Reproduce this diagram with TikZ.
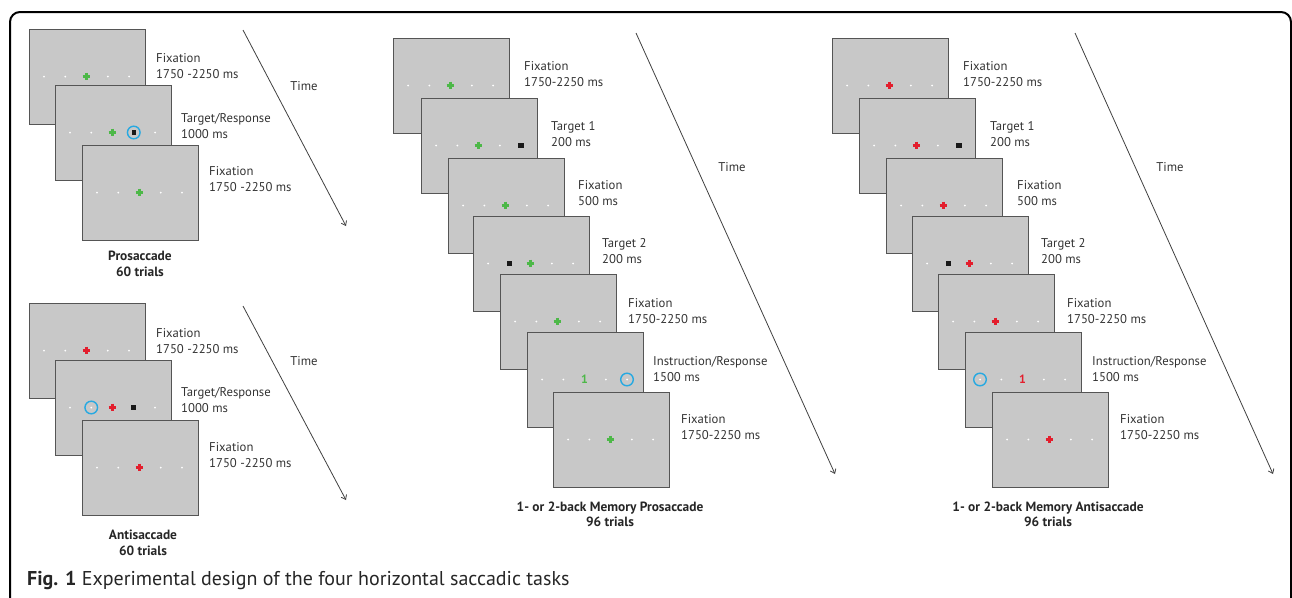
\documentclass[tikz,border=0pt]{standalone}
\usepackage{fontspec}
\setmainfont{PT Sans}
\usetikzlibrary{calc,arrows.meta}
\definecolor{scrfill}{HTML}{C8C8C8}
\definecolor{scrline}{HTML}{555555}
\definecolor{gcol}{HTML}{4DB848}
\definecolor{rcol}{HTML}{E31E2D}
\definecolor{bcol}{HTML}{27A9E1}
\definecolor{txtcol}{HTML}{333333}
\tikzset{
  screen/.style={draw=scrline, fill=scrfill, line width=1.3pt, minimum width=116pt, minimum height=95pt, inner sep=0pt, anchor=north west},
  lbl/.style={anchor=west, align=left, inner sep=0pt, text=txtcol, font=\fontsize{12.7}{16}\selectfont},
  ttl/.style={align=center, inner sep=0pt, text=black!85, font=\bfseries\fontsize{13.4}{15.5}\selectfont},
  timearrow/.style={draw=black!75, line width=0.8pt, -{Straight Barb[length=4pt,width=6pt]}},
  crs/.style={line width=2.2pt},
  ring/.style={draw=bcol, line width=1.4pt},
}
\newcommand\zzat[2]{\coordinate (p) at ($(#1.north west)+({-6.25+21.25*#2},47.5)$);}
\newcommand\zzd[2]{\zzat{#1}{#2}\fill[white] (p) circle[radius=1pt];}
\newcommand\zzgc[2]{\zzat{#1}{#2}\draw[crs,draw=gcol] (p) ++(-3.8,0) -- ++(7.6,0) (p) ++(0,-3.8) -- ++(0,7.6);}
\newcommand\zzrc[2]{\zzat{#1}{#2}\draw[crs,draw=rcol] (p) ++(-3.8,0) -- ++(7.6,0) (p) ++(0,-3.8) -- ++(0,7.6);}
\newcommand\zzsq[2]{\zzat{#1}{#2}\fill[black!90] (p) ++(-2.6,-2.6) rectangle ++(5.2,5.2);}
\newcommand\zzcs[2]{\zzat{#1}{#2}\fill[black!90] (p) ++(-2.2,-2.2) rectangle ++(4.4,4.4);\draw[ring] (p) circle[radius=6.3pt];}
\newcommand\zzcd[2]{\zzat{#1}{#2}\fill[white] (p) circle[radius=1pt];\draw[ring] (p) circle[radius=6.3pt];}
\newcommand\zzgo[2]{\zzat{#1}{#2}\node[inner sep=0pt, text=gcol, font=\bfseries\fontsize{12}{12}\selectfont] (one-#1) at (p) {1};}
\newcommand\zzro[2]{\zzat{#1}{#2}\node[inner sep=0pt, text=rcol, font=\bfseries\fontsize{12}{12}\selectfont] (one-#1) at (p) {1};}
\newcommand\zzscreen[4]{%
  \node[screen] (#1) at (#2,#3) {};
  \foreach \k [count=\i] in {#4} {\csname zz\k\endcsname{#1}{\i}}%
}
\begin{document}
\begin{tikzpicture}[x=1pt,y=-1pt]
\useasboundingbox (0,0) rectangle (1292,597);
\begin{scope}
\clip (0,0) rectangle (1292,597);
\draw[line width=2pt, rounded corners=10pt] (10,12) rectangle (1291,700);
\end{scope}

% ---------- Prosaccade ----------
\zzscreen{pa}{29}{29}{d,d,gc,d,d}
\zzscreen{pb}{55}{85}{d,d,gc,cs,d}
\zzscreen{pc}{82}{145}{d,d,gc,d,d}
\node[lbl] (lpa) at (156,66) {Fixation\\1750 -2250 ms};
\node[lbl] (lpb) at (181,126) {Target/Response\\1000 ms};
\node[lbl] (lpc) at (209,179) {Fixation\\1750 -2250 ms};
\node[ttl] (tp) at (140,264) {Prosaccade\\60 trials};
\coordinate (pas) at (243,30);
\coordinate (pae) at (346,226);
\draw[timearrow] (pas) -- (pae);
\node[lbl, anchor=center] (timep) at (304,86) {Time};

% ---------- Antisaccade ----------
\zzscreen{aa}{29}{303}{d,d,rc,d,d}
\zzscreen{ab}{55}{360}{d,cd,rc,sq,d}
\zzscreen{ac}{82}{420}{d,d,rc,d,d}
\node[lbl] (laa) at (156,341) {Fixation\\1750 -2250 ms};
\node[lbl] (lab) at (181,400.5) {Target/Response\\1000 ms};
\node[lbl] (lac) at (209,455) {Fixation\\1750 -2250 ms};
\node[ttl] (ta) at (143,543) {Antisaccade\\60 trials};
\coordinate (aas) at (243,306);
\coordinate (aae) at (346,500);
\draw[timearrow] (aas) -- (aae);
\node[lbl, anchor=center] (timea) at (304,361) {Time};

% ---------- Memory Prosaccade ----------
\zzscreen{ma}{393}{38}{d,d,gc,d,d}
\zzscreen{mb}{421}{98}{d,d,gc,d,sq}
\zzscreen{mc}{448}{158}{d,d,gc,d,d}
\zzscreen{md}{473}{216}{d,sq,gc,d,d}
\zzscreen{me}{500}{274}{d,d,gc,d,d}
\zzscreen{mf}{527}{332}{d,d,go,d,cd}
\zzscreen{mg}{553}{392}{d,d,gc,d,d}
\node[lbl] (lma) at (524,74) {Fixation\\1750-2250 ms};
\node[lbl] (lmb) at (551,134) {Target 1\\200 ms};
\node[lbl] (lmc) at (578,193.5) {Fixation\\500 ms};
\node[lbl] (lmd) at (602,251) {Target 2\\200 ms};
\node[lbl] (lme) at (628,311) {Fixation\\1750-2250 ms};
\node[lbl] (lmf) at (653,369) {Instruction/Response\\1500 ms};
\node[lbl] (lmg) at (681,427) {Fixation\\1750-2250 ms};
\node[ttl] (tm) at (610,514.5) {1- or 2-back Memory Prosaccade\\96 trials};
\coordinate (mas) at (636,33);
\coordinate (mae) at (835,474);
\draw[timearrow] (mas) -- (mae);
\node[lbl, anchor=center] (timem) at (732,167) {Time};

% ---------- Memory Antisaccade ----------
\zzscreen{na}{832}{38}{d,d,rc,d,d}
\zzscreen{nb}{859}{98}{d,d,rc,d,sq}
\zzscreen{nc}{886}{158}{d,d,rc,d,d}
\zzscreen{nd}{912}{216}{d,sq,rc,d,d}
\zzscreen{ne}{938}{274}{d,d,rc,d,d}
\zzscreen{nf}{965}{332}{cd,d,ro,d,d}
\zzscreen{ng}{992}{392}{d,d,rc,d,d}
\node[lbl] (lna) at (963,74) {Fixation\\1750-2250 ms};
\node[lbl] (lnb) at (990,134) {Target 1\\200 ms};
\node[lbl] (lnc) at (1017,193.5) {Fixation\\500 ms};
\node[lbl] (lnd) at (1041,251) {Target 2\\200 ms};
\node[lbl] (lne) at (1067,311) {Fixation\\1750-2250 ms};
\node[lbl] (lnf) at (1092,369) {Instruction/Response\\1500 ms};
\node[lbl] (lng) at (1120,427) {Fixation\\1750-2250 ms};
\node[ttl] (tn) at (1048,514.5) {1- or 2-back Memory Antisaccade\\96 trials};
\coordinate (nas) at (1075,33);
\coordinate (nae) at (1273,474);
\draw[timearrow] (nas) -- (nae);
\node[lbl, anchor=center] (timen) at (1170,167) {Time};

% ---------- Caption ----------
\node[anchor=west, inner sep=0pt, text=black!85, font=\fontsize{20}{24}\selectfont] (cap) at (27,580) {\textbf{Fig. 1} Experimental design of the four horizontal saccadic tasks};
\end{tikzpicture}
\end{document}
